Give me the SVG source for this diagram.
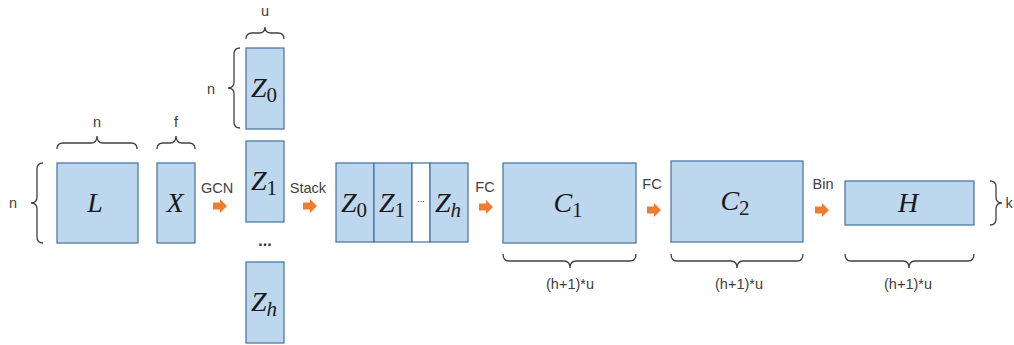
<svg xmlns="http://www.w3.org/2000/svg" xmlns:xlink="http://www.w3.org/1999/xlink" width="1014" height="345" viewBox="0 0 1014 345">
<style>
.box{fill:#BDD7EE;stroke:#41719C;stroke-width:1.2}
.white{fill:#FFFFFF;stroke:#41719C;stroke-width:1.2}
.brace{fill:none;stroke:#404040;stroke-width:1.3}
.lbl{font-family:"Liberation Sans",Arial,sans-serif;font-size:14.5px;fill:#404040;text-anchor:middle}
.m{font-family:"Liberation Serif","Times New Roman",serif;font-style:italic;font-size:28px;fill:#1a1a1a;text-anchor:middle}
.sub{font-style:normal;font-size:21px}
.arrow{fill:#ED7D31}
</style>
<defs>
<path id="arr" d="M-7,-3.5 H0 V-7 L7,0 L0,7 V3.5 H-7 Z"/>
</defs>
<rect width="1014" height="345" fill="#FFFFFF"/>

<g id="L">
<rect class="box" x="57" y="163" width="81" height="80"/>
<text class="m" x="95" y="212">L</text>
<path class="brace" d="M57,149 Q57,143 63,143 L91,143 Q97,143 97,136 Q97,143 103,143 L131,143 Q137,143 137,149"/>
<text class="lbl" x="97" y="127">n</text>
<path class="brace" d="M43,163 Q37,163 37,169 L37,197 Q37,203 31,203 Q37,203 37,209 L37,237 Q37,243 43,243"/>
<text class="lbl" x="13" y="208">n</text>
</g>

<g id="X">
<rect class="box" x="157" y="163" width="38" height="80"/>
<text class="m" x="175" y="212">X</text>
<path class="brace" d="M157,149 Q157,143 163,143 L170,143 Q176,143 176,136 Q176,143 182,143 L189,143 Q195,143 195,149"/>
<text class="lbl" x="176" y="127">f</text>
</g>

<g id="Z0">
<rect class="box" x="246" y="48" width="38" height="81"/>
<text class="m" x="264" y="97">Z<tspan class="sub" dy="5">0</tspan></text>
<path class="brace" d="M246,39 Q246,33 252,33 L259,33 Q265,33 265,27 Q265,33 271,33 L278,33 Q284,33 284,39"/>
<text class="lbl" x="265" y="16">u</text>
<path class="brace" d="M240,48 Q234,48 234,54 L234,82 Q234,88 228,88 Q234,88 234,94 L234,122 Q234,128 240,128"/>
<text class="lbl" x="211" y="94">n</text>
</g>

<g id="Z1">
<rect class="box" x="246" y="141" width="38" height="81"/>
<text class="m" x="264" y="190">Z<tspan class="sub" dy="5">1</tspan></text>
</g>

<g id="vdots">
<text class="lbl" x="265" y="246" style="font-size:16px;font-weight:bold;fill:#333">...</text>
</g>

<g id="Zh">
<rect class="box" x="246" y="262" width="38" height="81"/>
<text class="m" x="264" y="311">Z<tspan class="sub" dy="5" style="font-style:italic">h</tspan></text>
</g>

<g id="Stack">
<rect class="box" x="336" y="163" width="38" height="79"/>
<rect class="box" x="374" y="163" width="38" height="79"/>
<rect class="white" x="412" y="163" width="18" height="79"/>
<rect class="box" x="430" y="163" width="38" height="79"/>
<text class="m" x="354" y="212">Z<tspan class="sub" dy="5">0</tspan></text>
<text class="m" x="392" y="212">Z<tspan class="sub" dy="5">1</tspan></text>
<text class="lbl" x="421" y="202" style="font-size:9px;fill:#333">...</text>
<text class="m" x="448" y="212">Z<tspan class="sub" dy="5" style="font-style:italic">h</tspan></text>
</g>

<g id="C1">
<rect class="box" x="503" y="163" width="133" height="80"/>
<text class="m" x="568" y="212">C<tspan class="sub" dy="5">1</tspan></text>
<path class="brace" d="M503,254 Q503,261 509,261 L564,261 Q570,261 570,268 Q570,261 576,261 L630,261 Q636,261 636,254"/>
<text class="lbl" x="570" y="289">(h+1)*u</text>
</g>

<g id="C2">
<rect class="box" x="671" y="161" width="132" height="81"/>
<text class="m" x="735" y="210">C<tspan class="sub" dy="5">2</tspan></text>
<path class="brace" d="M671,254 Q671,261 677,261 L731,261 Q737,261 737,268 Q737,261 743,261 L797,261 Q803,261 803,254"/>
<text class="lbl" x="739" y="289">(h+1)*u</text>
</g>

<g id="H">
<rect class="box" x="845" y="181" width="129" height="44"/>
<text class="m" x="908" y="212">H</text>
<path class="brace" d="M845,254 Q845,261 851,261 L903,261 Q909,261 909,268 Q909,261 915,261 L968,261 Q974,261 974,254"/>
<text class="lbl" x="908" y="289">(h+1)*u</text>
<path class="brace" d="M990,181 Q996,181 996,187 L996,197 Q996,203 1002,203 Q996,203 996,209 L996,219 Q996,225 990,225"/>
<text class="lbl" x="1009" y="208">k</text>
</g>

<g id="connectors">
<use xlink:href="#arr" class="arrow" x="220" y="206"/>
<text class="lbl" x="217" y="193">GCN</text>
<use xlink:href="#arr" class="arrow" x="310" y="206"/>
<text class="lbl" x="308" y="193">Stack</text>
<use xlink:href="#arr" class="arrow" x="486" y="207"/>
<text class="lbl" x="485" y="192">FC</text>
<use xlink:href="#arr" class="arrow" x="654" y="210"/>
<text class="lbl" x="652" y="189">FC</text>
<use xlink:href="#arr" class="arrow" x="822" y="210"/>
<text class="lbl" x="823" y="189">Bin</text>
</g>
</svg>
